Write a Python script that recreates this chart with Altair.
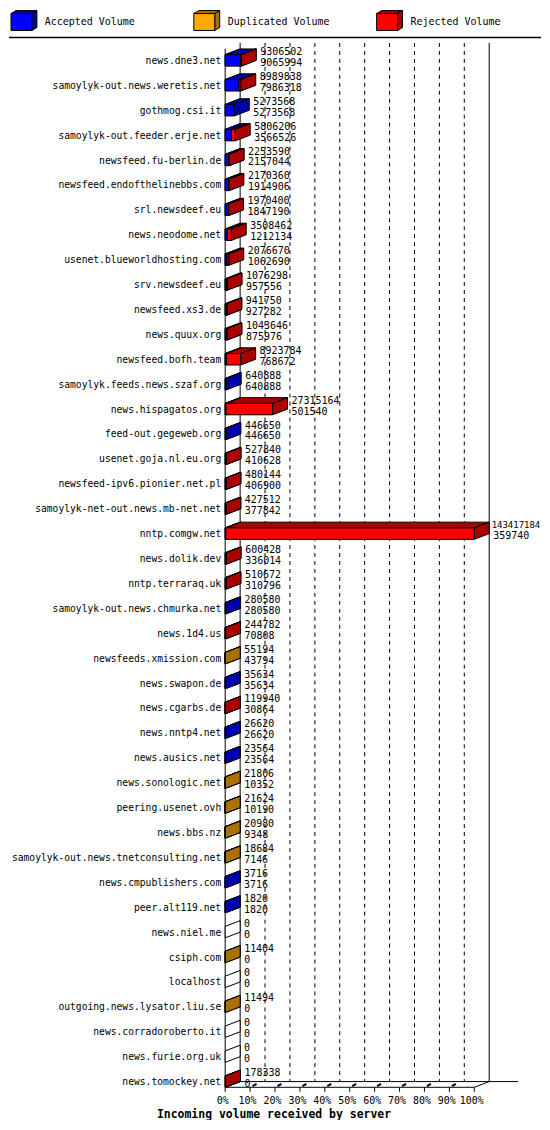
import altair as alt
import pandas as pd

# ---------------- data ----------------
HOSTS = [
    "news.dne3.net", "samoylyk-out.news.weretis.net", "gothmog.csi.it",
    "samoylyk-out.feeder.erje.net", "newsfeed.fu-berlin.de", "newsfeed.endofthelinebbs.com",
    "srl.newsdeef.eu", "news.neodome.net", "usenet.blueworldhosting.com", "srv.newsdeef.eu",
    "newsfeed.xs3.de", "news.quux.org", "newsfeed.bofh.team", "samoylyk.feeds.news.szaf.org",
    "news.hispagatos.org", "feed-out.gegeweb.org", "usenet.goja.nl.eu.org",
    "newsfeed-ipv6.pionier.net.pl", "samoylyk-net-out.news.mb-net.net", "nntp.comgw.net",
    "news.dolik.dev", "nntp.terraraq.uk", "samoylyk-out.news.chmurka.net", "news.1d4.us",
    "newsfeeds.xmission.com", "news.swapon.de", "news.cgarbs.de", "news.nntp4.net",
    "news.ausics.net", "news.sonologic.net", "peering.usenet.ovh", "news.bbs.nz",
    "samoylyk-out.news.tnetconsulting.net", "news.cmpublishers.com", "peer.alt119.net",
    "news.niel.me", "csiph.com", "localhost", "outgoing.news.lysator.liu.se",
    "news.corradoroberto.it", "news.furie.org.uk", "news.tomockey.net",
]
TOTALS = [
    9306502, 8989838, 5273568, 5806206, 2253590, 2170360, 1970400, 3508462, 2076670, 1076298,
    941750, 1043646, 8923784, 640888, 27315164, 446650, 527840, 480144, 427512, 143417184,
    600428, 510672, 280580, 244782, 55194, 35634, 119940, 26620, 23564, 21806,
    21624, 20980, 18684, 3716, 1820, 0, 11404, 0, 11494, 0, 0, 178338,
]
ACCEPTED = [
    9065994, 7986318, 5273568, 3566526, 2157044, 1914906, 1847190, 1212134, 1062690, 957556,
    927282, 875976, 768672, 640888, 501540, 446650, 410628, 406900, 377842, 359740,
    336014, 310796, 280580, 70808, 43794, 35634, 30864, 26620, 23564, 10352,
    10190, 9348, 7146, 3716, 1820, 0, 0, 0, 0, 0, 0, 0,
]
# colour of the non-accepted remainder seen on each bar: D = duplicated, R = rejected
REMAINDER = [
    "R", "R", "R", "R", "R", "R", "R", "R", "R", "R",
    "R", "R", "R", "R", "R", "R", "R", "R", "R", "R",
    "R", "R", "R", "R", "D", "R", "R", "R", "R", "D",
    "D", "D", "D", "R", "R", "R", "D", "R", "D", "R", "R", "R",
]
SERIES = ["Accepted Volume", "Duplicated Volume", "Rejected Volume"]
FRONT_COLORS = ["#0000ff", "#ffaa00", "#ff0000"]
DARK_COLORS = ["#0000aa", "#aa7100", "#aa0000"]
TICKS = [0, 10, 20, 30, 40, 50, 60, 70, 80, 90, 100]
TICK_LABELS = ["0%", "10%", "20%", "30%", "40%", "50%", "60%", "70%", "80%", "90%", "100%"]
TITLE = "Incoming volume received by server"

# ---------------- geometry / style ----------------
MONO = "DejaVu Sans Mono"
N = len(HOSTS)
MAXV = max(TOTALS)
W = 534
LEG_H = 27
MAIN_H = 1087
PX_PER_PCT = 2.5
ROW_PX = 25.0
DX = 15 / PX_PER_PCT          # depth in percent units
DY = 5.75 / ROW_PX            # depth in row units
H = 5.75 / ROW_PX             # half height of front face
FLOOR_FRONT = (N - 1) + H
FLOOR_BACK = FLOOR_FRONT - DY
TOP_BACK = -0.7
TOP_FRONT = TOP_BACK + DY
FLOOR_EXT = 117.6
TICK_LEN = 0.18

XS = alt.Scale(domain=[0, 100], range=[217, 467], nice=False, zero=False)
YS = alt.Scale(domain=[0, N - 1], range=[23.5, 23.5 + ROW_PX * (N - 1)], nice=False, zero=False)


def X(f):
    return alt.X(f, scale=XS, axis=None, stack=None)


def Y(f):
    return alt.Y(f, scale=YS, axis=None, stack=None)


# ---------------- build tables ----------------
fronts, tops, sides, base, rows = [], [], [], [], []
for i, (h, t, a, r) in enumerate(zip(HOSTS, TOTALS, ACCEPTED, REMAINDER)):
    dup = t - a if r == "D" else 0
    parts = [a, dup, t - a - dup]
    start = 0
    for k, v in enumerate(parts):
        s = start / MAXV * 100
        e = (start + v) / MAXV * 100
        start += v
        if v <= 0:
            continue
        seg = f"{i}_{k}"
        fronts.append(dict(seg=seg, kind=k, x=s, x2=e, y=i - H, y2=i + H))
        tops.append(dict(seg=seg, kind=k, y=i - H, x=s, x2=e))
        tops.append(dict(seg=seg, kind=k, y=i - H - DY, x=s + DX, x2=e + DX))
        sides.append(dict(seg=seg, kind=k, x=e, y=i - H, y2=i + H))
        sides.append(dict(seg=seg, kind=k, x=e + DX, y=i - H - DY, y2=i + H - DY))
    base.append(dict(seg=str(i), x=0.0, y=i - H, y2=i + H))
    base.append(dict(seg=str(i), x=DX, y=i - H - DY, y2=i + H - DY))
    rows.append(dict(i=i, host=h, zero=0, tp=t / MAXV * 100, top=str(t), bot=str(a)))

fronts = pd.DataFrame(fronts)
tops = pd.DataFrame(tops)
sides = pd.DataFrame(sides)
base = pd.DataFrame(base)
rows = pd.DataFrame(rows)

dashed = pd.DataFrame([dict(x=p + DX, y=TOP_BACK, y2=FLOOR_BACK) for p in TICKS[1:-1]])
solid = pd.DataFrame(
    [dict(x=TICKS[0] + DX, x2=TICKS[0] + DX, y=TOP_BACK, y2=FLOOR_BACK),
     dict(x=TICKS[-1] + DX, x2=TICKS[-1] + DX, y=TOP_BACK, y2=FLOOR_BACK),
     dict(x=0, x2=0, y=TOP_FRONT, y2=FLOOR_FRONT)]
)
floor = [
    dict(x=DX, x2=FLOOR_EXT, y=FLOOR_BACK, y2=FLOOR_BACK),
    dict(x=0, x2=100, y=FLOOR_FRONT, y2=FLOOR_FRONT),
    dict(x=0, x2=DX, y=FLOOR_FRONT, y2=FLOOR_BACK),
    dict(x=100, x2=100 + DX, y=FLOOR_FRONT, y2=FLOOR_BACK),
]
floor += [dict(x=p, x2=p, y=FLOOR_FRONT, y2=FLOOR_FRONT + TICK_LEN) for p in TICKS]
floor = pd.DataFrame(floor)
ticks3d = pd.DataFrame(
    [dict(x=p + 1.0, x2=p + 2.6, y=FLOOR_FRONT - 0.05, y2=FLOOR_FRONT - 0.14) for p in TICKS[1:-1]]
)
tick_df = pd.DataFrame(dict(p=TICKS, label=TICK_LABELS, f=[FLOOR_FRONT] * len(TICKS)))
one = pd.DataFrame({"t": [TITLE]})

# ---------------- main panel ----------------
layers = []
layers.append(
    alt.Chart(dashed).mark_rule(color="black", strokeWidth=1, strokeDash=[4, 4])
    .encode(x=X("x:Q"), y=Y("y:Q"), y2="y2:Q")
)
layers.append(
    alt.Chart(solid).mark_rule(color="black", strokeWidth=1)
    .encode(x=X("x:Q"), x2="x2:Q", y=Y("y:Q"), y2="y2:Q")
)
layers.append(
    alt.Chart(base).mark_area(orient="vertical", fill="white", stroke="black",
                              strokeWidth=1, opacity=1)
    .encode(x=X("x:Q"), y=Y("y:Q"), y2="y2:Q", detail="seg:N")
)
for k in range(3):
    t_k = tops[tops.kind == k]
    s_k = sides[sides.kind == k]
    f_k = fronts[fronts.kind == k]
    if len(f_k) == 0:
        continue
    layers.append(
        alt.Chart(t_k).mark_area(orient="horizontal", fill=DARK_COLORS[k], stroke="black",
                                 strokeWidth=1, opacity=1)
        .encode(y=Y("y:Q"), x=X("x:Q"), x2="x2:Q", detail="seg:N")
    )
    layers.append(
        alt.Chart(s_k).mark_area(orient="vertical", fill=DARK_COLORS[k], stroke="black",
                                 strokeWidth=1, opacity=1)
        .encode(x=X("x:Q"), y=Y("y:Q"), y2="y2:Q", detail="seg:N")
    )
    layers.append(
        alt.Chart(f_k).mark_rect(fill=FRONT_COLORS[k], stroke="black", strokeWidth=1, opacity=1)
        .encode(x=X("x:Q"), x2="x2:Q", y=Y("y:Q"), y2="y2:Q")
    )
layers.append(
    alt.Chart(floor).mark_rule(color="black", strokeWidth=1)
    .encode(x=X("x:Q"), x2="x2:Q", y=Y("y:Q"), y2="y2:Q")
)
layers.append(
    alt.Chart(ticks3d).mark_rule(color="black", strokeWidth=2)
    .encode(x=X("x:Q"), x2="x2:Q", y=Y("y:Q"), y2="y2:Q")
)
layers.append(
    alt.Chart(rows).mark_text(font=MONO, fontSize=9.7, align="right", baseline="middle",
                              dx=-4, dy=0.5, color="black", clip=True)
    .encode(x=X("zero:Q"), y=Y("i:Q"), text="host:N")
)
# top value: bars that reach the right edge get a slightly smaller font so the text fits
layers.append(
    alt.Chart(rows).transform_filter(alt.datum.tp <= 90)
    .mark_text(font=MONO, fontSize=10, align="left", baseline="middle",
               dx=19, dy=-8.5, color="black", clip=True)
    .encode(x=X("tp:Q"), y=Y("i:Q"), text="top:N")
)
layers.append(
    alt.Chart(rows).transform_filter(alt.datum.tp > 90)
    .mark_text(font=MONO, fontSize=9, align="left", baseline="middle",
               dx=17.5, dy=-8.5, color="black", clip=True)
    .encode(x=X("tp:Q"), y=Y("i:Q"), text="top:N")
)
layers.append(
    alt.Chart(rows).mark_text(font=MONO, fontSize=10, align="left", baseline="middle",
                              dx=19, dy=2.5, color="black", clip=True)
    .encode(x=X("tp:Q"), y=Y("i:Q"), text="bot:N")
)
layers.append(
    alt.Chart(tick_df).mark_text(font=MONO, fontSize=10, align="center", baseline="middle",
                                 dx=-2.5, dy=13.5, color="black", clip=True)
    .encode(x=X("p:Q"), y=Y("f:Q"), text="label:N")
)
layers.append(
    alt.Chart(one).mark_text(font=MONO, fontSize=11.5, fontWeight="bold", align="center",
                             baseline="middle", color="black", clip=True)
    .encode(x=alt.value(266), y=alt.value(1082), text="t:N")
)
# separator line between legend and plot
layers.append(
    alt.Chart(one).mark_rule(color="black", strokeWidth=1.5)
    .encode(x=alt.value(0), x2=alt.value(W), y=alt.value(0.5))
)

main = alt.layer(*layers).properties(width=W, height=MAIN_H)

# ---------------- legend panel ----------------
FRONT_PATH = "M-1,-0.538L0.615,-0.538L0.615,0.769L-1,0.769Z"
DARK_PATH = ("M-1,-0.538L0.615,-0.538L1,-0.769L-0.615,-0.769Z "
             "M0.615,-0.538L1,-0.769L1,0.538L0.615,0.769Z")
leg_df = pd.DataFrame({"series": SERIES})
LX = alt.X("series:N", scale=alt.Scale(type="point", domain=SERIES, range=[15, 382], padding=0),
           axis=None)
leg_dark = alt.Chart(leg_df).mark_point(shape=DARK_PATH, size=676, filled=True, stroke="black",
                                        strokeWidth=1, opacity=1, clip=True).encode(
    x=LX, y=alt.value(10.5),
    color=alt.Color("series:N", scale=alt.Scale(domain=SERIES, range=DARK_COLORS), legend=None),
)
leg_front = alt.Chart(leg_df).mark_point(shape=FRONT_PATH, size=676, filled=True, stroke="black",
                                         strokeWidth=1, opacity=1, clip=True).encode(
    x=LX, y=alt.value(10.5),
    color=alt.Color("series:N", scale=alt.Scale(domain=SERIES, range=FRONT_COLORS), legend=None),
)
leg_text = alt.Chart(leg_df).mark_text(font=MONO, fontSize=10, align="left", baseline="middle",
                                       dx=21, color="black", clip=True).encode(
    x=LX, y=alt.value(12), text="series:N"
)
legend = (alt.layer(leg_dark, leg_front, leg_text)
          .resolve_scale(color="independent")
          .properties(width=W, height=LEG_H))

chart = (
    alt.vconcat(legend, main, spacing=0, bounds="flush")
    .resolve_scale(x="independent", y="independent", color="independent")
    .properties(padding=0, background="white")
    .configure_view(stroke=None)
)

chart.save("out.html", embed_options={"renderer": "svg", "actions": False})
